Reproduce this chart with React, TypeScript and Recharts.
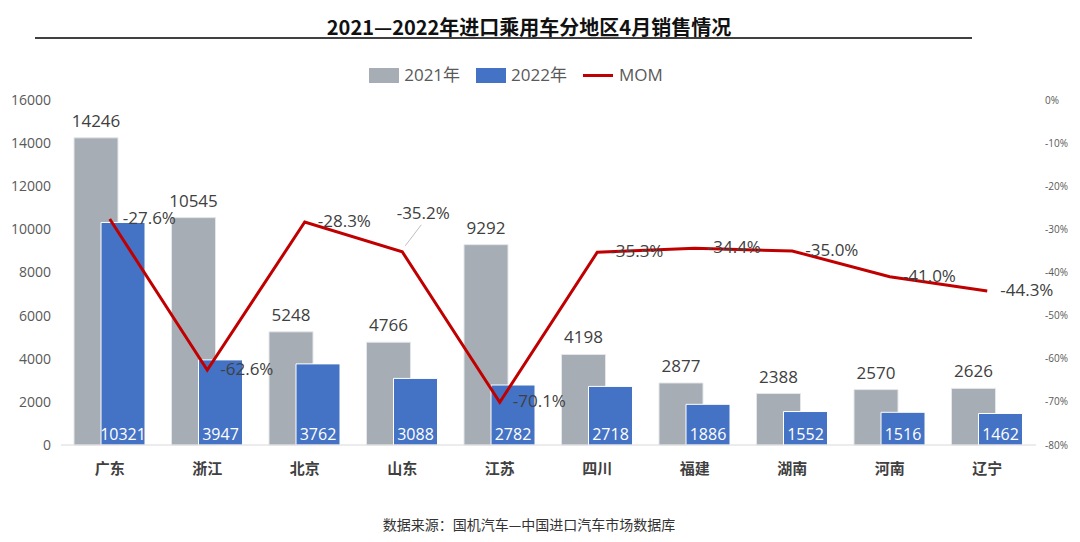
import {
  ComposedChart,
  Bar,
  Line,
  XAxis,
  YAxis,
  LabelList,
} from "recharts";

const REGIONS = ["广东", "浙江", "北京", "山东", "江苏", "四川", "福建", "湖南", "河南", "辽宁"];
const SALES_2021 = [14246, 10545, 5248, 4766, 9292, 4198, 2877, 2388, 2570, 2626];
const SALES_2022 = [10321, 3947, 3762, 3088, 2782, 2718, 1886, 1552, 1516, 1462];
const MOM = [-27.6, -62.6, -28.3, -35.2, -70.1, -35.3, -34.4, -35.0, -41.0, -44.3];
const LEFT_TICKS = [0, 2000, 4000, 6000, 8000, 10000, 12000, 14000, 16000];
const RIGHT_TICKS = [0, -10, -20, -30, -40, -50, -60, -70, -80];

const GRAY = "#A6ADB4";
const BLUE = "#4472C4";
const RED = "#C00000";
const FONT = "'Open Sans', 'Noto Sans CJK SC', sans-serif";
const CJK = "'Noto Sans CJK SC', sans-serif";

const data = REGIONS.map((name, i) => ({
  name,
  y2021: SALES_2021[i],
  y2022: SALES_2022[i],
  mom: MOM[i],
}));

function MomLabel(props: any) {
  const { x, y, value, index } = props;
  const txt = `${Number(value).toFixed(1)}%`;
  if (index === 3) {
    // this one sits above the point, with a leader line
    return (
      <g>
        <line x1={x + 3} y1={y - 6} x2={x + 19} y2={y - 27} stroke="#BFBFBF" strokeWidth={1} />
        <text x={x + 21} y={y - 39} dy="0.35em" textAnchor="middle" fill="#404040" fontSize={17} fontFamily={FONT}>
          {txt}
        </text>
      </g>
    );
  }
  return (
    <text x={x + 13} y={y - 1} dy="0.35em" textAnchor="start" fill="#404040" fontSize={17} fontFamily={FONT}>
      {txt}
    </text>
  );
}

function LegendBox() {
  const item = { display: "flex", alignItems: "center", marginRight: 16 } as const;
  return (
    <div
      style={{
        position: "absolute",
        left: 0,
        width: 1048,
        top: 64,
        display: "flex",
        justifyContent: "center",
        fontFamily: FONT,
        fontSize: 17,
        lineHeight: "22px",
        color: "#595959",
      }}
    >
      <div style={item}>
        <span style={{ width: 30, height: 15, background: GRAY, marginRight: 5, display: "inline-block" }} />
        2021年
      </div>
      <div style={item}>
        <span style={{ width: 30, height: 15, background: BLUE, marginRight: 5, display: "inline-block" }} />
        2022年
      </div>
      <div style={item}>
        <span style={{ width: 30, height: 3, background: RED, marginRight: 6, display: "inline-block" }} />
        MOM
      </div>
    </div>
  );
}

export default function App() {
  return (
    <div style={{ position: "absolute", left: 0, top: 0, width: 1080, height: 542, background: "#fff" }}>
      <div
        style={{
          position: "absolute",
          left: 0,
          width: 1058,
          top: 14,
          textAlign: "center",
          fontFamily: CJK,
          fontWeight: 700,
          fontSize: 20,
          color: "#111",
          lineHeight: "26px",
        }}
      >
        2021—2022年进口乘用车分地区4月销售情况
      </div>
      <div style={{ position: "absolute", left: 35, top: 37, width: 937, height: 2, background: "#404040" }} />
      <LegendBox />

      <ComposedChart
        width={1080}
        height={542}
        data={data}
        margin={{ top: 100, right: 0, left: 0, bottom: 67 }}
        barSize={44}
        barGap={-17}
        barCategoryGap={0}
      >
        <XAxis
          dataKey="name"
          height={30}
          axisLine={{ stroke: "#D9D9D9" }}
          tickLine={false}
          tickMargin={12}
          tick={{ fill: "#404040", fontSize: 15, fontWeight: 700, fontFamily: CJK }}
        />
        <YAxis
          yAxisId="left"
          width={61}
          domain={[0, 16000]}
          ticks={LEFT_TICKS}
          axisLine={false}
          tickLine={false}
          tickSize={0}
          tickMargin={10}
          tick={{ fill: "#595959", fontSize: 14, fontFamily: FONT }}
        />
        <YAxis
          yAxisId="right"
          orientation="right"
          width={44}
          domain={[-80, 0]}
          ticks={RIGHT_TICKS}
          axisLine={false}
          tickLine={false}
          tickSize={0}
          tickMargin={9}
          tickFormatter={(v: number) => `${v}%`}
          tick={{ fill: "#595959", fontSize: 10, fontFamily: FONT }}
        />
        <Bar yAxisId="left" dataKey="y2021" name="2021年" fill={GRAY} stroke="#E4E7EA" strokeWidth={1} isAnimationActive={false}>
          <LabelList dataKey="y2021" position="top" offset={11} fill="#404040" fontSize={17} fontFamily={FONT} />
        </Bar>
        <Bar yAxisId="left" dataKey="y2022" name="2022年" fill={BLUE} stroke="#ffffff" strokeWidth={1} isAnimationActive={false}>
          <LabelList dataKey="y2022" position="insideBottom" offset={5} fill="#ffffff" fontSize={16} fontFamily={FONT} />
        </Bar>
        <Line
          yAxisId="right"
          dataKey="mom"
          name="MOM"
          type="linear"
          stroke={RED}
          strokeWidth={3}
          dot={false}
          activeDot={false}
          isAnimationActive={false}
        >
          <LabelList dataKey="mom" content={MomLabel} />
        </Line>
      </ComposedChart>

      <div
        style={{
          position: "absolute",
          left: 0,
          width: 1058,
          top: 514,
          textAlign: "center",
          fontFamily: CJK,
          fontSize: 14,
          color: "#333",
        }}
      >
        数据来源：国机汽车—中国进口汽车市场数据库
      </div>
    </div>
  );
}
